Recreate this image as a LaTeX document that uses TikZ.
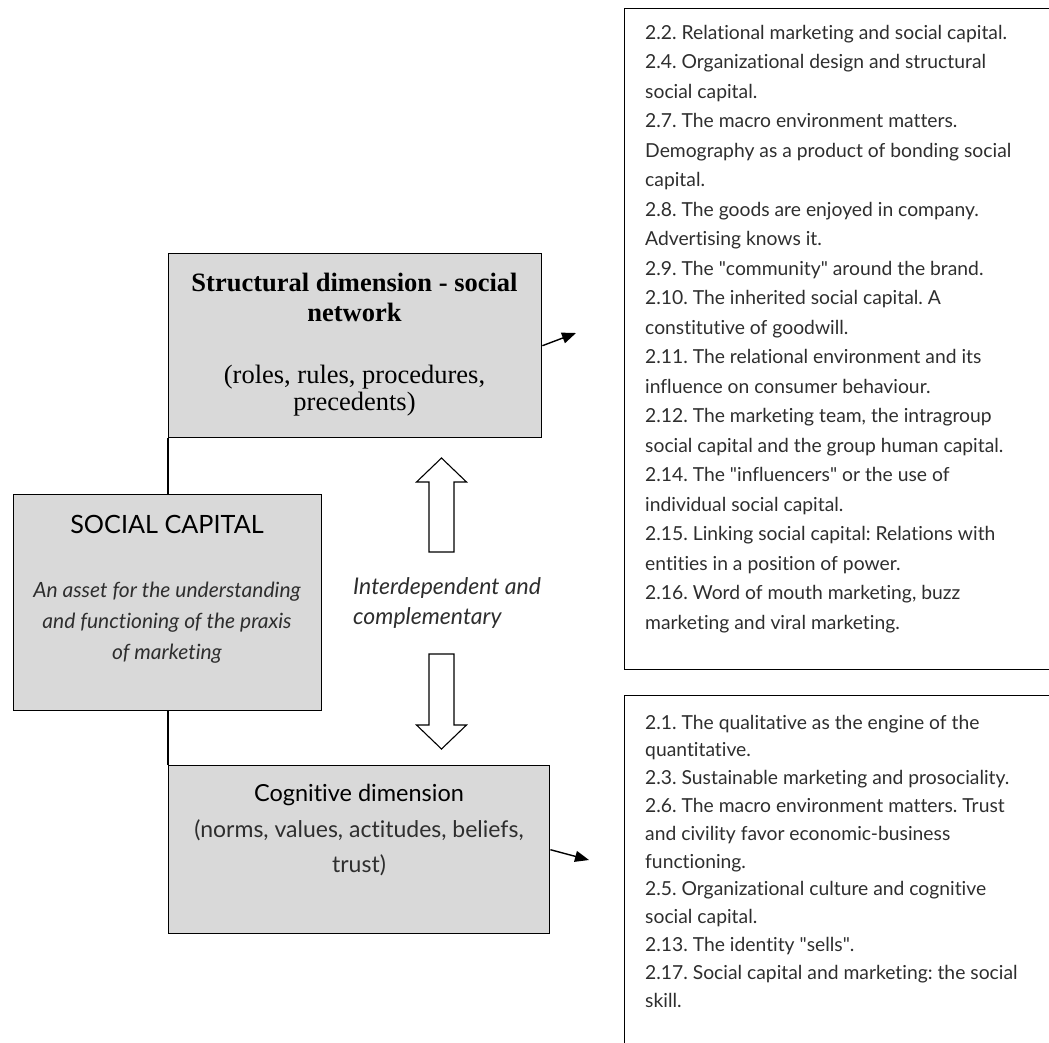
\documentclass[tikz,border=0pt]{standalone}
\usepackage{fontspec}
\setmainfont{Lato}[Ligatures={NoCommon}]
\newfontfamily\timesfont{Liberation Serif}
\usetikzlibrary{arrows.meta}
\definecolor{boxgray}{HTML}{D9D9D9}
\definecolor{txtgray}{HTML}{2E2E2E}
\frenchspacing
\begin{document}
\begin{tikzpicture}[x=1pt,y=-1pt,
  graybox/.style={draw, line width=1.4pt, fill=boxgray, inner sep=0pt, anchor=north west},
  listbox/.style={draw, line width=1.4pt, inner sep=0pt, anchor=north west},
  conn/.style={line width=1.4pt},
  arr/.style={line width=1.4pt, -{Triangle[length=14pt,width=11pt]}},
  blockarrow/.style={draw, line width=1.1pt, fill=white, line join=miter},
  rtext/.style={font=\fontsize{19.3}{29.5}\selectfont, text=txtgray, inner sep=0pt, anchor=base west}]
\useasboundingbox (0,0) rectangle (1049,1042);
\clip (0,0) rectangle (1049,1042);

% main boxes
\node[graybox, minimum width=373pt, minimum height=184pt] (struct) at (168,253) {};
\node[graybox, minimum width=308pt, minimum height=216pt] (sc) at (13,494) {};
\node[graybox, minimum width=381pt, minimum height=168pt] (cog) at (168,765) {};

% list boxes (right side runs past the picture edge)
\node[listbox, minimum width=460pt, minimum height=661pt] (listA) at (624,8) {};
\node[listbox, minimum width=460pt, minimum height=400pt] (listB) at (624,695) {};

% box texts
\node[font=\timesfont\bfseries\fontsize{26.5}{30}\selectfont, align=center] (structT) at (354.5,297) {Structural dimension - social\\network};
\node[font=\timesfont\fontsize{26.5}{27}\selectfont, align=center] (structB) at (354.5,391) {(roles, rules, procedures,\\precedents)};

\node[font=\fontsize{25.2}{28}\selectfont] (scT) at (167,524) {SOCIAL CAPITAL};
\node[font=\itshape\fontsize{21}{31}\selectfont, text=txtgray, align=center] (scB) at (167,623) {An asset for the understanding\\and functioning of the praxis\\of marketing};

\node[font=\itshape\fontsize{23}{30}\selectfont, text=txtgray, align=left, anchor=west, inner sep=0pt] (inter) at (353,603) {Interdependent and\\complementary};

\node[font=\fontsize{23.5}{26}\selectfont] (cogT) at (359,795) {Cognitive dimension};
\node[font=\fontsize{23}{35}\selectfont, text=txtgray, align=center] (cogB) at (359,848) {(norms, values, actitudes, beliefs,\\trust)};

% connectors
\draw[conn] (struct.south west) -- (struct.south west |- sc.north);
\draw[conn] (cog.north west |- sc.south) -- (cog.north west);
\coordinate (tipA) at (576,333);
\coordinate (tipB) at (589,860);
\draw[arr] (struct.east) -- (tipA);
\draw[arr] (cog.east) -- (tipB);

% block arrows
\draw[blockarrow] (429,552) -- (429,482) -- (416.5,482) -- (441.5,458) -- (466.5,482) -- (454,482) -- (454,552) -- cycle;
\draw[blockarrow] (429,654) -- (429,725) -- (416.5,725) -- (441.5,749) -- (466.5,725) -- (454,725) -- (454,654) -- cycle;

% list texts
\foreach \t [count=\i] in {
  {2.2. Relational marketing and social capital.},
  {2.4. Organizational design and structural},
  {social capital.},
  {2.7. The macro environment matters.},
  {Demography as a product of bonding social},
  {capital.},
  {2.8. The goods are enjoyed in company.},
  {Advertising knows it.},
  {2.9. The \textquotedbl community\textquotedbl{} around the brand.},
  {2.10. The inherited social capital. A},
  {constitutive of goodwill.},
  {2.11. The relational environment and its},
  {influence on consumer behaviour.},
  {2.12. The marketing team, the intragroup},
  {social capital and the group human capital.},
  {2.14. The \textquotedbl influencers\textquotedbl{} or the use of},
  {individual social capital.},
  {2.15. Linking social capital: Relations with},
  {entities in a position of power.},
  {2.16. Word of mouth marketing, buzz},
  {marketing and viral marketing.}}
  \node[rtext] (a\i) at (645,{39+29.5*(\i-1)}) {\t};

\foreach \t [count=\i] in {
  {2.1. The qualitative as the engine of the},
  {quantitative.},
  {2.3. Sustainable marketing and prosociality.},
  {2.6. The macro environment matters. Trust},
  {and civility favor economic-business},
  {functioning.},
  {2.5. Organizational culture and cognitive},
  {social capital.},
  {2.13. The identity \textquotedbl sells\textquotedbl.},
  {2.17. Social capital and marketing: the social},
  {skill.}}
  \node[rtext] (b\i) at (645,{729+27.8*(\i-1)}) {\t};
\end{tikzpicture}
\end{document}
